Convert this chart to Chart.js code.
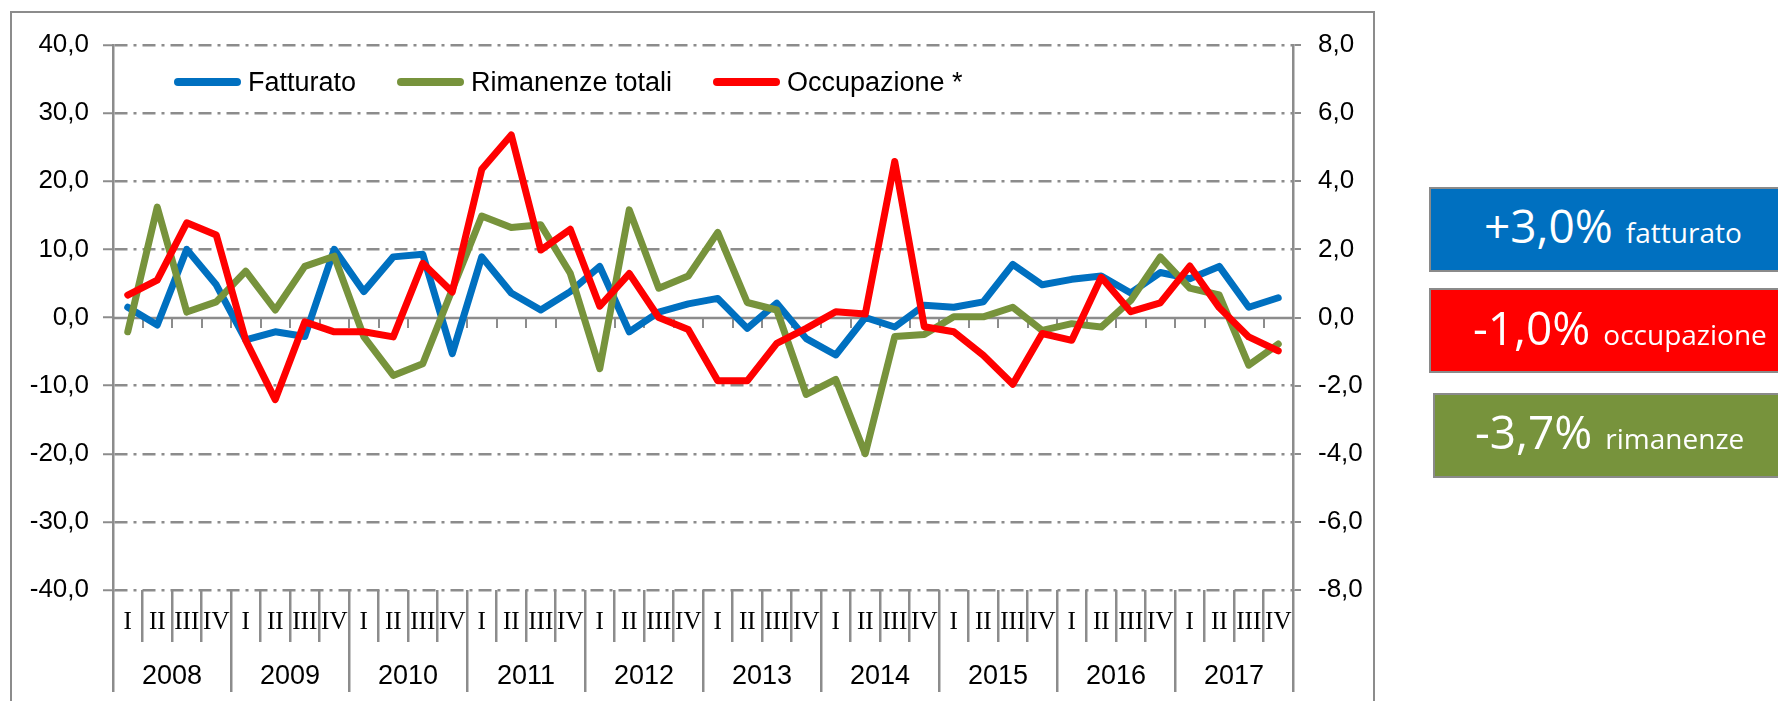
<!DOCTYPE html>
<html>
<head>
<meta charset="utf-8">
<script src="https://cdn.jsdelivr.net/npm/chart.js@4.4.1/dist/chart.umd.min.js"></script>
<style>
  html, body { margin: 0; padding: 0; background: #fff; width: 1778px; height: 701px; overflow: hidden; }
  #wrap { position: relative; width: 1778px; height: 701px; overflow: hidden; }
  #frame { position: absolute; left: 10px; top: 11px; width: 1365px; height: 760px; border: 2px solid #8c8c8c; box-sizing: border-box; z-index: 0; }
  #c { position: absolute; left: 0; top: 0; z-index: 1; }
  .lg { position: absolute; top: 67px; height: 30px; display: flex; align-items: center; z-index: 2;
        font-family: 'Liberation Sans', Arial, sans-serif; font-size: 27px; line-height: 30px; color: #000; white-space: nowrap; }
  .lg .sw { display: inline-block; width: 67px; height: 8px; border-radius: 4px; margin-right: 7px; }
  .box { position: absolute; height: 85px; width: 420px; box-sizing: border-box; border: 2px solid #8a8a8a; z-index: 2; color: #fff;
         font-family: 'Open Sans', 'Noto Sans', sans-serif; }
  .box .t { position: absolute; display: flex; align-items: baseline; white-space: nowrap; line-height: 45px; }
  .box .big { font-size: 46px; }
  .box .small { font-size: 28px; margin-left: 13px; }
</style>
</head>
<body>
<div id="wrap">
  <div id="frame"></div>
  <canvas id="c" width="1778" height="701"></canvas>
</div>
<script>
// ---- data ----
const quarters = ["I","II","III","IV","I","II","III","IV","I","II","III","IV","I","II","III","IV","I","II","III","IV",
                  "I","II","III","IV","I","II","III","IV","I","II","III","IV","I","II","III","IV","I","II","III","IV"];
const years = ["2008","2009","2010","2011","2012","2013","2014","2015","2016","2017"];

const fatturato = [1.5, -1.1, 10.0, 4.8, -3.3, -2.1, -2.8, 10.0, 3.8, 8.9,
                   9.3, -5.3, 8.9, 3.6, 1.1, 3.8, 7.5, -2.1, 0.8, 2.0,
                   2.8, -1.6, 2.1, -3.1, -5.5, 0.0, -1.4, 1.8, 1.5, 2.3,
                   7.8, 4.8, 5.6, 6.1, 3.6, 6.6, 5.7, 7.5, 1.5, 2.9];
const rimanenze = [-2.1, 16.2, 0.8, 2.3, 6.8, 1.1, 7.5, 9.0, -2.8, -8.5,
                   -6.8, 4.1, 14.9, 13.2, 13.6, 6.5, -7.5, 15.8, 4.3, 6.1,
                   12.5, 2.2, 1.1, -11.3, -9.1, -20.0, -2.8, -2.5, 0.1, 0.1,
                   1.5, -1.9, -0.9, -1.4, 2.5, 8.9, 4.3, 3.3, -7.0, -3.9];
const occupazione = [0.66, 1.10, 2.78, 2.42, -0.67, -2.41, -0.13, -0.42, -0.42, -0.57,
                     1.59, 0.75, 4.35, 5.36, 1.98, 2.59, 0.33, 1.29, 0.00, -0.35,
                     -1.86, -1.86, -0.76, -0.32, 0.17, 0.10, 4.58, -0.27, -0.42, -1.11,
                     -1.96, -0.47, -0.67, 1.18, 0.17, 0.43, 1.51, 0.29, -0.57, -0.98];
const seriesNames = ["Fatturato", "Rimanenze totali", "Occupazione *"];

const leftMin = -40, leftMax = 40, leftStep = 10;
const rightMin = -8, rightMax = 8, rightStep = 2;

const summaryValues = ["+3,0%", "-1,0%", "-3,7%"];
const summaryLabels = ["fatturato", "occupazione", "rimanenze"];

// ---- styles ----
const BLUE = '#0070C0', GREEN = '#77933C', RED = '#FF0000', GRID = '#8c8c8c';
const TICK_FONT = { family: "'Liberation Sans', Arial, sans-serif", size: 26 };
const fmt = v => Number(v).toFixed(1).replace('.', ',');

const zeroLine = {
  id: 'zeroLine',
  beforeDatasetsDraw(chart) {
    const { ctx, chartArea, scales: { x, y } } = chart;
    const y0 = Math.round(y.getPixelForValue(0));
    ctx.save();
    ctx.strokeStyle = GRID;
    ctx.lineWidth = 2.5;
    ctx.beginPath();
    ctx.moveTo(chartArea.left, y0);
    ctx.lineTo(chartArea.right, y0);
    ctx.stroke();
    ctx.lineWidth = 2;
    ctx.beginPath();
    for (let i = 1; i < quarters.length; i++) {
      const bx = Math.round((x.getPixelForValue(i - 1) + x.getPixelForValue(i)) / 2);
      ctx.moveTo(bx, y0);
      ctx.lineTo(bx, y0 + 10);
    }
    ctx.stroke();
    ctx.restore();
  }
};

const chart = new Chart(document.getElementById('c'), {
  type: 'line',
  data: {
    labels: quarters,
    datasets: [
      { label: seriesNames[0], data: fatturato, borderColor: BLUE, backgroundColor: BLUE, yAxisID: 'y', order: 2 },
      { label: seriesNames[1], data: rimanenze, borderColor: GREEN, backgroundColor: GREEN, yAxisID: 'y', order: 1 },
      { label: seriesNames[2], data: occupazione, borderColor: RED, backgroundColor: RED, yAxisID: 'y1', order: 0 }
    ]
  },
  options: {
    responsive: false,
    animation: false,
    devicePixelRatio: 1,
    events: [],
    layout: { padding: { top: 45, left: 0, right: 0, bottom: 0 } },
    elements: {
      line: { borderWidth: 7, tension: 0, borderCapStyle: 'round', borderJoinStyle: 'round', fill: false },
      point: { radius: 0, hoverRadius: 0 }
    },
    plugins: { legend: { display: false }, tooltip: { enabled: false } },
    scales: {
      x: {
        type: 'category', axis: 'x', position: 'bottom', offset: true, weight: 0,
        grid: { display: true, drawOnChartArea: false, offset: true, tickLength: 52, lineWidth: 2.5, color: GRID },
        border: { display: false },
        ticks: { autoSkip: false, maxRotation: 0, minRotation: 0, padding: -35, color: '#000',
                 font: { family: "'Liberation Serif', 'DejaVu Serif', serif", size: 25 } },
        afterFit(s) { s.height = 52; }
      },
      x2: {
        type: 'category', axis: 'x', labels: years, position: 'bottom', offset: true, weight: 1,
        grid: { display: true, drawOnChartArea: false, offset: true, tickLength: 50, lineWidth: 2.5, color: GRID },
        border: { display: false },
        ticks: { autoSkip: false, maxRotation: 0, minRotation: 0, padding: -32, color: '#000',
                 font: { family: "'Liberation Sans', Arial, sans-serif", size: 27 } },
        afterFit(s) { s.height = 59; }
      },
      y: {
        position: 'left', min: leftMin, max: leftMax,
        ticks: { stepSize: leftStep, callback: fmt, padding: 14, color: '#000', font: TICK_FONT },
        grid: { color: c => (c.tick && c.tick.value === 0) ? 'rgba(0,0,0,0)' : GRID, lineWidth: 2.5,
                tickLength: 10, tickColor: GRID, tickWidth: 2 },
        border: { display: true, color: GRID, width: 2.5, dash: [13, 6, 3, 6] },
        afterFit(s) { s.width = 113; }
      },
      y1: {
        position: 'right', min: rightMin, max: rightMax,
        ticks: { stepSize: rightStep, callback: fmt, padding: 17, color: '#000', font: TICK_FONT },
        grid: { drawOnChartArea: false, tickLength: 8, color: GRID, lineWidth: 2 },
        border: { display: true, color: GRID, width: 2.5 },
        afterFit(s) { s.width = 485; }
      }
    }
  },
  plugins: [zeroLine]
});

// ---- legend (HTML, from the datasets) ----
const wrap = document.getElementById('wrap');
const legendX = [174, 397, 713];
chart.data.datasets.forEach((ds, i) => {
  const d = document.createElement('div');
  d.className = 'lg';
  d.style.left = legendX[i] + 'px';
  const sw = document.createElement('span');
  sw.className = 'sw';
  sw.style.background = ds.borderColor;
  const tx = document.createElement('span');
  tx.textContent = ds.label;
  d.appendChild(sw); d.appendChild(tx);
  wrap.appendChild(d);
});

// ---- summary boxes ----
const boxColors = [BLUE, RED, GREEN];
const boxLayout = [
  { left: 1429, top: 187, padL: 53, padT: 14 },
  { left: 1429, top: 288, padL: 42, padT: 15 },
  { left: 1433, top: 393, padL: 40, padT: 14 }
];
summaryValues.forEach((v, i) => {
  const b = document.createElement('div');
  b.className = 'box';
  b.style.left = boxLayout[i].left + 'px';
  b.style.top = boxLayout[i].top + 'px';
  b.style.background = boxColors[i];
  const t = document.createElement('div');
  t.className = 't';
  t.style.left = boxLayout[i].padL + 'px';
  t.style.top = boxLayout[i].padT + 'px';
  const big = document.createElement('span'); big.className = 'big'; big.textContent = v;
  const sm = document.createElement('span'); sm.className = 'small'; sm.textContent = summaryLabels[i];
  t.appendChild(big); t.appendChild(sm);
  b.appendChild(t);
  wrap.appendChild(b);
});
</script>
</body>
</html>
